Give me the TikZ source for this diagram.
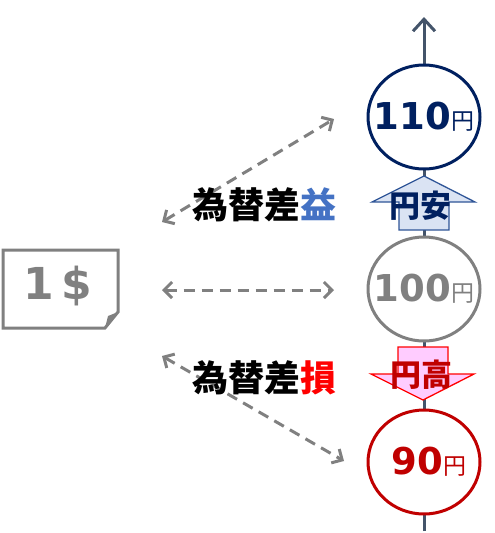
\documentclass[tikz,border=0pt]{standalone}
\usepackage{fontspec}
\setmainfont{Noto Sans CJK JP}
\newfontfamily\numfont{DejaVu Sans}
\usetikzlibrary{arrows.meta, shapes.geometric}
\definecolor{navy}{HTML}{002060}
\definecolor{darkred}{HTML}{C00000}
\definecolor{axisgray}{HTML}{44546A}
\definecolor{moneygray}{HTML}{808080}
\definecolor{upfill}{HTML}{DAE3F3}
\definecolor{upline}{HTML}{2F5597}
\definecolor{downfill}{HTML}{FFCCFF}
\definecolor{gainblue}{HTML}{4472C4}
\tikzset{
  rate/.style = {ellipse, draw=#1, fill=white, line width=3pt,
                 minimum width=112pt, minimum height=104pt,
                 inner ysep=0pt, inner xsep=-20pt, text=#1},
  swap/.style = {draw=moneygray, line width=3pt, dash pattern=on 11pt off 7pt,
                 {Straight Barb[length=8pt,width=16pt]}-{Straight Barb[length=8pt,width=16pt]}},
  bigjp/.style = {font=\bfseries\fontsize{36}{36}\selectfont, inner sep=0pt}
}
\newcommand{\yen}[1]{{\numfont\bfseries\fontsize{37}{37}\selectfont #1}{\fontsize{23}{23}\selectfont 円}}

\begin{document}
\begin{tikzpicture}[x=1pt, y=-1pt]
	\useasboundingbox (0,0) rectangle (495,533);
	
	% Axis
	\coordinate (axbot) at (424,531);
	\coordinate (axtop) at (424,17);
	\draw[axisgray, line width=3pt, -{Straight Barb[length=12pt,width=22pt]}] (axbot) -- (axtop);
	
	% Yen up / yen down
	\draw[upline, fill=upfill, line width=1.3pt] (424,176) -- (475,202) -- (449,202) -- (449,230)
		-- (399,230) -- (399,202) -- (372,202) -- cycle;
	\draw[red, fill=downfill, line width=1.3pt] (398,347) -- (448,347) -- (448,374) -- (474,374)
		-- (423,400) -- (371,374) -- (398,374) -- cycle;
	\node[font=\bfseries\fontsize{31}{31}\selectfont, text=navy, inner sep=0pt] (yasu) at (420,206) {円安};
	\node[font=\bfseries\fontsize{31}{31}\selectfont, text=darkred, inner sep=0pt] (daka) at (421,375) {円高};
	
	% Rates
	\node[rate=navy] (r110) at (424,117) {\yen{110}};
	\node[rate=moneygray] (r100) at (424,289) {\yen{100}};
	\node[rate=darkred] (r90) at (424,462) {\hspace{10pt}\yen{90}};
	
	% Dollar note
	\draw[moneygray, line width=3pt, line join=miter] (3,250) -- (118,250) -- (118,312) -- (105,328) -- (3,328) -- cycle;
	\fill[moneygray] (105,328) -- (108,316) -- (118,312) -- cycle;
	\node[text=moneygray, font=\numfont\bfseries\fontsize{44}{44}\selectfont] (usd) at (58,286) {1\,\$};
	
	% Exchange
	\coordinate (gainL) at (162,222);
	\coordinate (gainR) at (334,119);
	\coordinate (evenL) at (162,290);
	\coordinate (evenR) at (334,290);
	\coordinate (lossL) at (162,356);
	\coordinate (lossR) at (344,461);
	\draw[swap] (gainL) -- (gainR);
	\draw[swap] (evenL) -- (evenR);
	\draw[swap] (lossL) -- (lossR);
	
	% Gain / loss
	\node[bigjp] (gain) at (264,205) {為替差\textcolor{gainblue}{益}};
	\node[bigjp] (loss) at (264,378) {為替差\textcolor{red}{損}};
	
\end{tikzpicture}
\end{document}
